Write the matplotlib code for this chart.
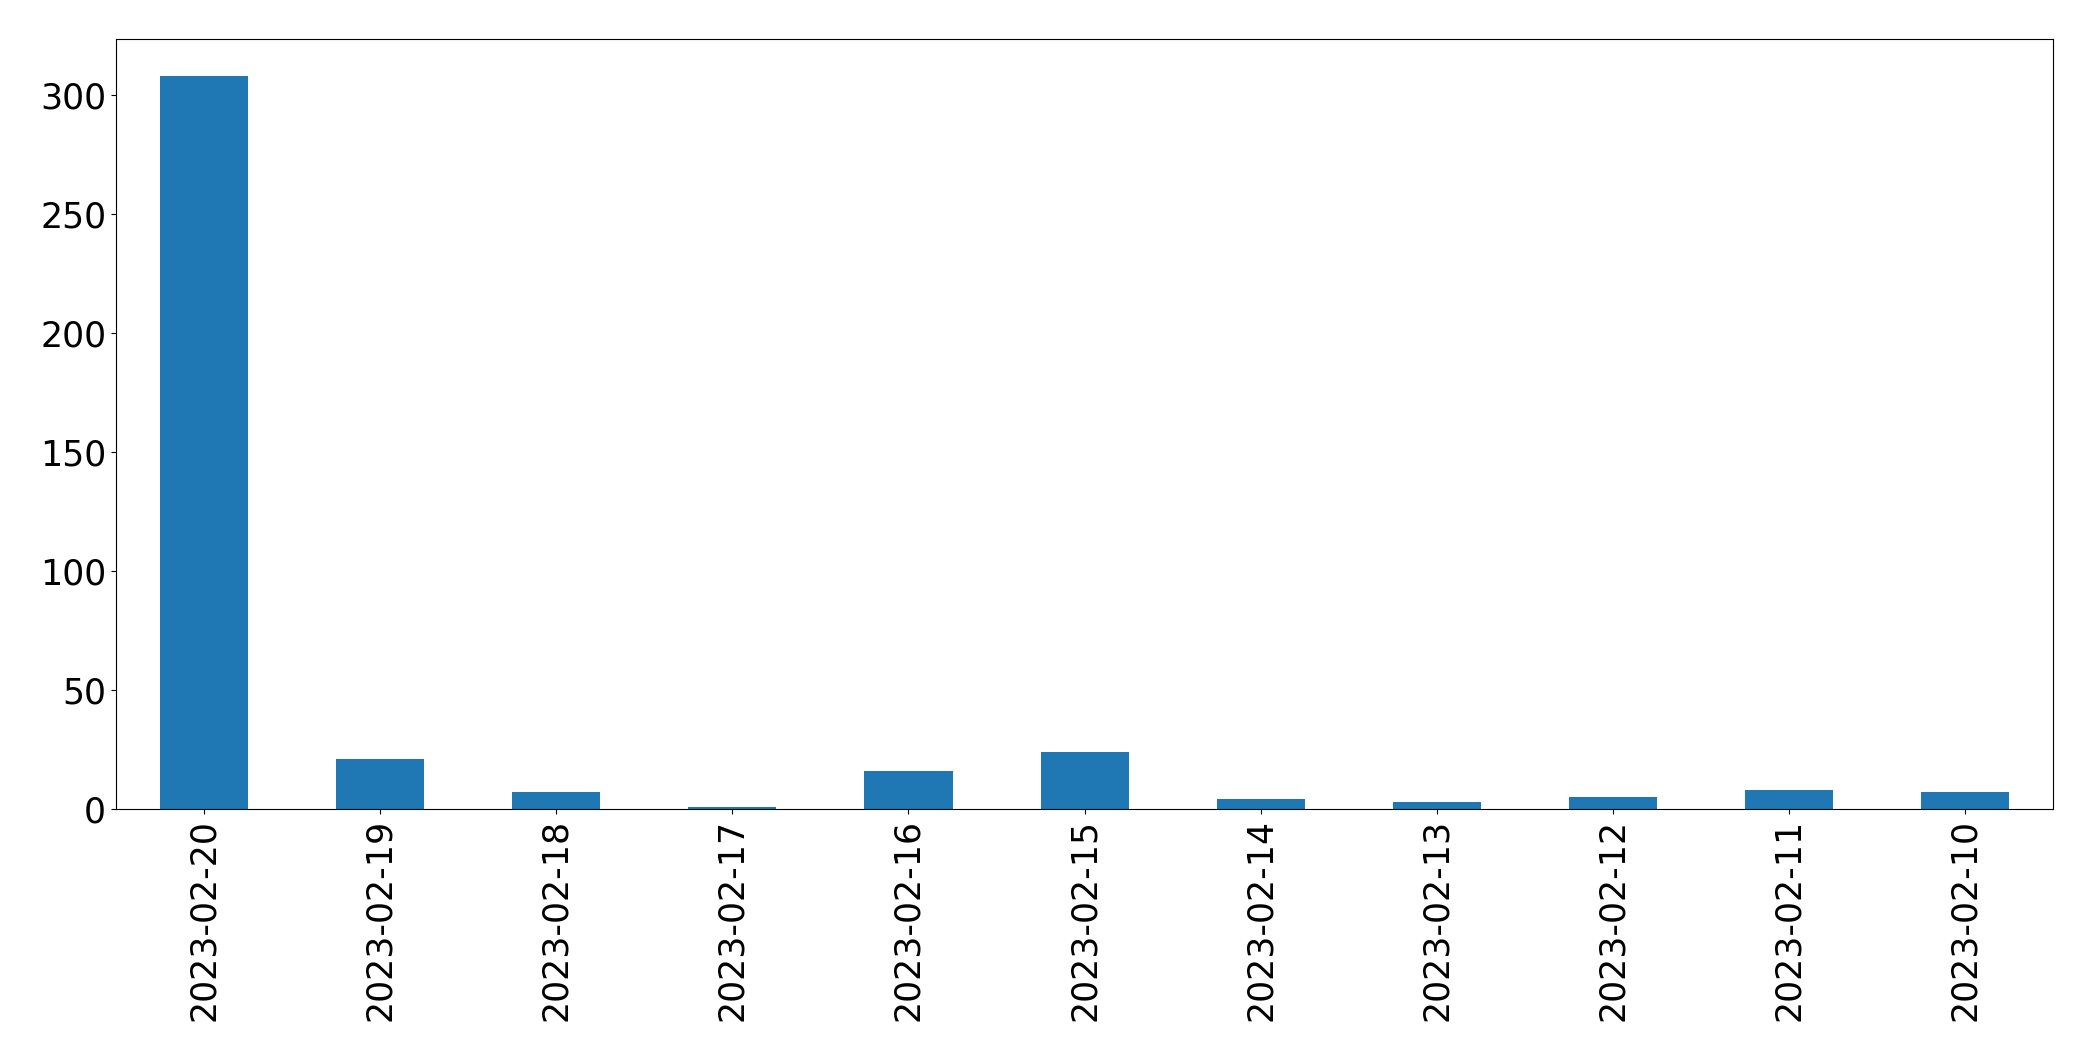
import numpy as np
import pandas as pd
import matplotlib
matplotlib.use("Agg")
import matplotlib.pyplot as plt

# 日付ごとの件数 (新しい順)
dates = ["2023-02-20", "2023-02-19", "2023-02-18", "2023-02-17", "2023-02-16",
         "2023-02-15", "2023-02-14", "2023-02-13", "2023-02-12", "2023-02-11",
         "2023-02-10"]
counts = [308, 21, 7, 1, 16, 24, 4, 3, 5, 8, 7]

s = pd.Series(counts, index=dates)

fig, ax = plt.subplots(figsize=(20.93, 10.61), dpi=100)
s.plot.bar(ax=ax, color="#1f77b4", width=0.5, fontsize=25)
ax.tick_params(axis="x", labelrotation=90)

fig.subplots_adjust(left=0.0554, right=0.981, top=0.963, bottom=0.2375)
plt.savefig("out.png", dpi=100)
plt.close(fig)
